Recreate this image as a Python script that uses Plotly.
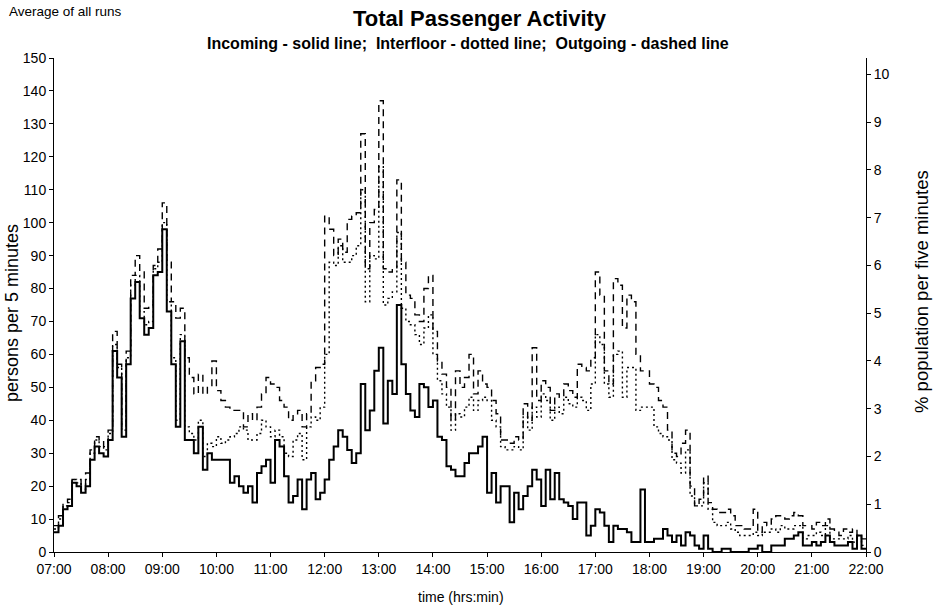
import plotly.graph_objects as go
from datetime import datetime, timedelta

# Five-minute passenger counts, 07:00 - 22:00 (180 intervals), average of all runs
incoming = [
    6, 8, 13, 14, 21, 20, 18, 20, 28, 32, 30, 29,
    34, 61, 53, 35, 57, 77, 82, 71, 66, 68, 84, 85,
    98, 73, 57, 38, 64, 34, 34, 30, 38, 25, 30, 28,
    28, 28, 28, 21, 23, 20, 18, 20, 15, 24, 26, 28,
    21, 34, 32, 23, 15, 17, 22, 13, 22, 24, 16, 18,
    22, 28, 32, 37, 35, 31, 27, 30, 51, 37, 43, 55,
    62, 39, 52, 48, 75, 57, 48, 43, 41, 51, 50, 44,
    46, 35, 34, 26, 25, 23, 23, 27, 30, 30, 32, 35,
    18, 24, 15, 20, 20, 9, 18, 13, 17, 20, 25, 22,
    14, 25, 16, 24, 16, 15, 14, 10, 15, 15, 5, 8,
    13, 12, 8, 3, 8, 7, 7, 6, 3, 3, 19, 3,
    3, 4, 4, 7, 5, 3, 5, 2, 6, 5, 2, 1,
    5, 1, 0, 0, 1, 1, 0, 0, 0, 0, 1, 1,
    2, 0, 0, 2, 2, 2, 4, 4, 5, 6, 2, 2,
    3, 2, 3, 5, 3, 2, 2, 2, 3, 1, 5, 1,
]

interfloor = [
    7, 10, 14, 15, 22, 21, 19, 22, 30, 34, 32, 31,
    36, 63, 56, 37, 59, 81, 84, 73, 69, 70, 86, 88,
    100, 76, 59, 40, 66, 38, 36, 34, 40, 29, 33, 32,
    35, 33, 34, 35, 36, 38, 37, 34, 34, 36, 40, 38,
    35, 37, 35, 30, 29, 34, 36, 28, 38, 41, 40, 44,
    60, 88, 87, 93, 88, 88, 90, 93, 110, 76, 90, 89,
    117, 75, 77, 79, 97, 74, 70, 69, 66, 63, 68, 72,
    60, 52, 48, 44, 37, 42, 41, 44, 47, 43, 46, 47,
    46, 40, 38, 32, 31, 31, 32, 31, 41, 37, 44, 41,
    48, 46, 40, 44, 42, 47, 45, 44, 47, 46, 43, 51,
    66, 63, 51, 47, 60, 61, 47, 56, 56, 43, 44, 44,
    44, 38, 36, 35, 34, 28, 27, 24, 31, 17, 14, 14,
    21, 13, 9, 8, 8, 9, 7, 6, 5, 5, 5, 6,
    5, 6, 6, 7, 6, 8, 7, 7, 8, 8, 4, 5,
    5, 6, 5, 8, 4, 4, 4, 4, 5, 3, 5, 2,
]

outgoing = [
    8, 11, 15, 16, 22, 22, 20, 24, 31, 35, 34, 32,
    37, 67, 57, 38, 61, 84, 90, 85, 74, 75, 87, 92,
    106, 88, 76, 71, 74, 59, 53, 48, 54, 48, 50, 58,
    49, 46, 44, 43, 43, 43, 38, 42, 40, 44, 48, 53,
    51, 50, 46, 44, 40, 42, 43, 38, 42, 52, 56, 57,
    102, 98, 90, 95, 91, 101, 102, 103, 127, 86, 100, 104,
    137, 86, 85, 86, 113, 88, 78, 77, 72, 70, 80, 84,
    67, 58, 54, 50, 40, 55, 50, 53, 60, 48, 55, 51,
    50, 46, 42, 34, 34, 33, 35, 34, 45, 40, 62, 46,
    52, 50, 43, 48, 47, 51, 49, 47, 57, 56, 55, 59,
    85, 78, 55, 51, 83, 81, 68, 78, 76, 60, 55, 55,
    51, 50, 46, 44, 37, 30, 29, 33, 37, 20, 14, 16,
    23, 15, 13, 12, 12, 13, 11, 8, 8, 7, 7, 13,
    6, 9, 8, 10, 11, 11, 10, 11, 12, 11, 8, 8,
    7, 9, 8, 10, 7, 6, 5, 7, 6, 7, 5, 4,
]

POPULATION = 1450          # building population used for the % scale
START = datetime(2000, 1, 1, 7, 0)
STEP_MIN = 5

times = [START + timedelta(minutes=STEP_MIN * i) for i in range(len(incoming) + 1)]
hour_ticks = [START + timedelta(hours=h) for h in range(16)]
hour_labels = [t.strftime("%H:%M") for t in hour_ticks]


def stepped(values):
    # repeat the last value so the final step reaches 22:00
    return list(values) + [values[-1]]


FONT = "Liberation Sans, Arial, sans-serif"

# plot-area geometry in pixels
W, H = 933, 611
ML, MR, MT, MB = 54, 67, 58, 59
PW, PH = W - ML - MR, H - MT - MB

fig = go.Figure()

fig.add_trace(go.Scatter(
    x=times, y=stepped(outgoing), mode="lines", line_shape="hv",
    line=dict(color="black", width=1.4, dash="7px,5px"), name="Outgoing",
))
fig.add_trace(go.Scatter(
    x=times, y=stepped(interfloor), mode="lines", line_shape="hv",
    line=dict(color="black", width=1.4, dash="2px,3px"), name="Interfloor",
))
fig.add_trace(go.Scatter(
    x=times, y=stepped(incoming), mode="lines", line_shape="hv",
    line=dict(color="black", width=2), name="Incoming",
))
# percentage of population on the right-hand axis
fig.add_trace(go.Scatter(
    x=times, y=[100.0 * v / POPULATION for v in stepped(incoming)],
    mode="lines", line=dict(color="rgba(0,0,0,0)", width=0),
    yaxis="y2", hoverinfo="skip", showlegend=False,
))

axis_common = dict(
    showgrid=False, zeroline=False, showline=True, linecolor="black", linewidth=1,
    ticks="outside", ticklen=4, tickcolor="black", tickwidth=1,
    tickfont=dict(family=FONT, size=14, color="black"),
)

fig.update_layout(
    width=W, height=H,
    margin=dict(l=ML, r=MR, t=MT, b=MB),
    paper_bgcolor="white", plot_bgcolor="white",
    showlegend=False,
    font=dict(family=FONT, color="black"),
    xaxis=dict(
        **axis_common,
        range=[times[0], times[-1]],
        tickmode="array", tickvals=hour_ticks, ticktext=hour_labels,
    ),
    yaxis=dict(
        **axis_common,
        range=[0, 150], tickmode="linear", tick0=0, dtick=10,
    ),
    yaxis2=dict(
        **axis_common,
        range=[0, 150 * 100.0 / POPULATION], tickmode="linear", tick0=0, dtick=1,
        overlaying="y", side="right",
    ),
)


def label(text, px, py, size, bold=False, angle=0, anchor="center"):
    # place a text label at pixel position (px, py) measured from the top-left corner
    fig.add_annotation(
        text=f"<b>{text}</b>" if bold else text,
        x=(px - ML) / PW, y=(H - py - MB) / PH,
        xref="paper", yref="paper", showarrow=False,
        xanchor=anchor, yanchor="middle", textangle=angle,
        font=dict(family=FONT, size=size, color="black"),
    )


label("Total Passenger Activity", 480, 19, 22, bold=True)
label("Incoming - solid line;  Interfloor - dotted line;  Outgoing - dashed line",
      468, 43, 16, bold=True)
label("Average of all runs", 7, 12, 13.5, anchor="left")
label("time (hrs:min)", 461, 597, 14)
label("persons per 5 minutes", 12, 313, 18, angle=-90)
label("% population per five minutes", 921, 291, 18.5, angle=-90)

fig.write_html("out.html")
